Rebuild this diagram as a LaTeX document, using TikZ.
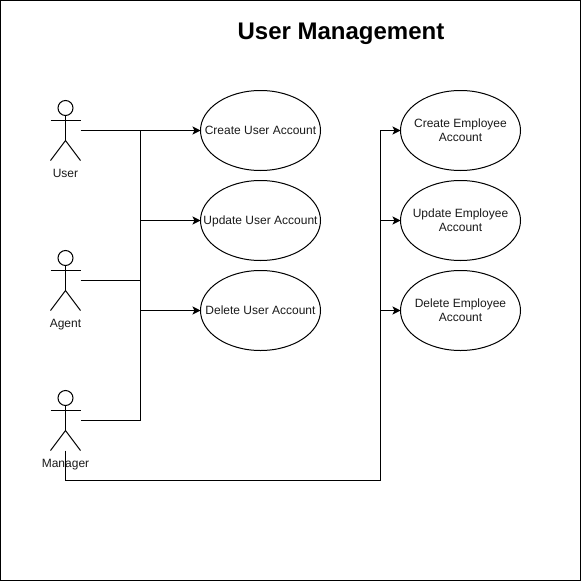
\documentclass[tikz,border=0pt]{standalone}
\usepackage{fontspec}
\setmainfont{Liberation Sans}
\usetikzlibrary{arrows.meta,positioning,calc,shapes.geometric}
\definecolor{labeltext}{HTML}{1A1A1A}
\newcommand{\actor}[3]{%
  \node[actorbox] (#1) at (#2) {};
  \node[actorlabel,below=8.5pt of #1] (#1label) {#3};
  \draw[line] ($(#1.north)+(0,7.5)$) circle (7.5pt);
  \draw[line] ($(#1.north)+(0,15)$) -- ($(#1.north)+(0,40)$);
  \draw[line] ($(#1.north west)+(0,20)$) -- ($(#1.north east)+(0,20)$);
  \draw[line] (#1.south west) -- ($(#1.north)+(0,40)$) -- (#1.south east);
}
\newcommand{\uctext}[1]{\raisebox{-4.5pt}[0pt][0pt]{\makebox[0pt]{\begin{tabular}{@{}c@{}}#1\end{tabular}}}}
\begin{document}
\begin{tikzpicture}[
  x=1pt,y=-1pt,
  font=\fontsize{12}{14}\selectfont,
  text=labeltext,
  node distance=10pt and 80pt,
  usecase/.style={draw,ellipse,line width=1pt,outer sep=0pt,minimum width=120pt,minimum height=80pt,inner sep=0pt,align=center},
  actorbox/.style={minimum width=30pt,minimum height=60pt,inner sep=0pt,outer sep=0pt},
  actorlabel/.style={inner sep=0pt,align=center},
  line/.style={line width=1pt,draw=black},
  arr/.style={-{Stealth[length=8pt,width=8pt,inset=2pt]},line width=1pt,draw=black}
]
\useasboundingbox (0,0) rectangle (581,581);
\draw[line] (0.5,0.5) rectangle (580.5,580.5);
\node[font=\fontsize{24}{28}\selectfont\bfseries,text=black] (title) at (341,33.5) {User Management};
% use cases
\node[usecase] (createuser) at (260.5,130.5) {\uctext{Create User Account}};
\node[usecase,below=of createuser] (updateuser) {\uctext{Update User Account}};
\node[usecase,below=of updateuser] (deleteuser) {\uctext{Delete User Account}};
\node[usecase,right=of createuser] (createemp) {\uctext{Create Employee\\Account}};
\node[usecase,right=of updateuser] (updateemp) {\uctext{Update Employee\\Account}};
\node[usecase,right=of deleteuser] (deleteemp) {\uctext{Delete Employee\\Account}};
% actors
\actor{user}{65.5,130.5}{User}
\actor{agent}{65.5,280.5}{Agent}
\actor{manager}{65.5,420.5}{Manager}
\coordinate (trunk) at (140.5,130.5);
\coordinate (bus) at (380.5,480.5);
% connectors
\draw[arr] (user.east) -- (createuser.west);
\draw[line] (trunk) |- (manager.east);
\draw[line] (agent.east) -- (agent.east -| trunk);
\draw[arr] (trunk |- updateuser.west) -- (updateuser.west);
\draw[arr] (trunk |- deleteuser.west) -- (deleteuser.west);
\draw[arr] (manager.south) |- (bus) |- (createemp.west);
\draw[arr] (bus |- updateemp.west) -- (updateemp.west);
\draw[arr] (bus |- deleteemp.west) -- (deleteemp.west);
\end{tikzpicture}
\end{document}
